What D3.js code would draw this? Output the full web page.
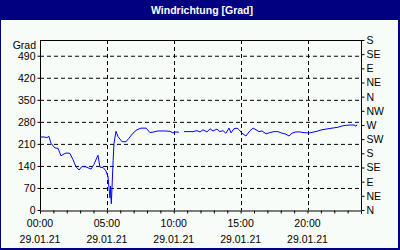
<!DOCTYPE html>
<html><head><meta charset="utf-8">
<script src="https://cdn.jsdelivr.net/npm/d3@7"></script>
<style>
html,body{margin:0;padding:0;background:#fff;}
svg{display:block;}
text{font-family:"Liberation Sans",Arial,sans-serif;}
</style></head>
<body><svg id="c" width="400" height="250"></svg>
<script>
const title = "Windrichtung [Grad]";
const yUnit = "Grad";
const dateLabel = "29.01.21";
const times = ["00:00","00:18","00:31","00:40","00:49","01:07","01:21","01:34","01:43","01:56","02:14","02:28","02:41","02:55","03:08","03:26","03:49","04:02","04:20","04:29","04:43","04:56","05:05","05:10","05:14","05:16","05:20","05:28","05:32","05:41","05:50","06:08","06:26","06:39","06:57","07:15","07:33","07:56","08:13","08:31","08:49","09:21","09:43","09:56","10:10","10:23","10:36","10:46","11:26","11:44","11:58","12:11","12:29","12:43","12:56","13:14","13:27","13:41","13:54","14:08","14:17","14:30","14:44","14:53","15:06","15:24","15:42","15:56","16:09","16:22","16:36","16:54","17:12","17:30","17:47","18:05","18:23","18:37","18:50","19:08","19:26","19:40","19:58","20:11","20:29","20:47","21:05","21:23","21:41","21:59","22:17","22:35","22:53","23:11","23:29","23:38","23:42"];
const values = [232,232,230,234,212,197,196,172,176,181,180,160,138,127,138,137,130,145,174,136,135,124,106,66,38,76,20,156,212,250,233,217,217,228,244,255,260,260,246,248,251,251,250,245,248,247,null,249,249,252,248,255,248,258,251,257,249,252,244,260,245,258,260,255,244,235,252,260,255,249,251,242,246,249,249,244,241,235,244,248,248,246,245,245,248,251,255,257,259,261,263,267,269,270,270,266,271];
const yTicks = [0,70,140,210,280,350,420,490];
const dirLabels = ["N","NE","E","SE","S","SW","W","NW","N","NE","E","SE","S"];
const xMajorHours = [0,5,10,15,20];

const svg = d3.select("#c");
const W = 400, H = 250;
const m = {l:40, r:361, t:40, b:210};
const day = new Date(2021,0,29,0,0);
const parse = t => { const [h,mi] = t.split(":").map(Number); return new Date(2021,0,29,h,mi); };
const data = times.map((t,i)=>({t:parse(t), v:values[i]}));

// background and frame
svg.append("rect").attr("x",0).attr("y",0).attr("width",W).attr("height",H).attr("fill","#000080");
svg.append("rect").attr("x",1).attr("y",20).attr("width",W-3).attr("height",H-22).attr("fill","#f8fcf8");
svg.append("text").attr("x",202).attr("y",14).attr("text-anchor","middle").attr("fill","#fff")
  .attr("font-weight","bold").attr("font-size","10.5px").text(title);

const x = d3.scaleTime().domain([day, d3.timeHour.offset(day,24)]).range([m.l, m.r]);
const y = d3.scaleLinear().domain([0,540]).range([m.b, m.t]);

// grid
const g = svg.append("g");
g.selectAll(".hg").data(yTicks.filter(d=>d>0)).join("line")
  .attr("x1",m.l).attr("x2",m.r).attr("y1",d=>y(d)+0.5).attr("y2",d=>y(d)+0.5)
  .attr("stroke","#000").attr("stroke-dasharray","4,3");
g.selectAll(".vg").data(xMajorHours.filter(d=>d>0)).join("line")
  .attr("x1",d=>Math.round(x(d3.timeHour.offset(day,d)))+0.5).attr("x2",d=>Math.round(x(d3.timeHour.offset(day,d)))+0.5)
  .attr("y1",m.t).attr("y2",m.b)
  .attr("stroke","#000").attr("stroke-dasharray","4,3");

// top border line of plot
svg.append("line").attr("x1",m.l).attr("x2",m.r).attr("y1",m.t+0.5).attr("y2",m.t+0.5).attr("stroke","#000");

// line
const line = d3.line().defined(d=>d.v!==null).x(d=>x(d.t)).y(d=>y(d.v));
svg.append("path").datum(data).attr("d",line).attr("fill","none").attr("stroke","#0000ff").attr("stroke-width",1);

// left axis
const la = svg.append("g").attr("transform",`translate(${m.l+0.5},0)`)
  .call(d3.axisLeft(y).tickValues(yTicks).tickSize(3).tickPadding(2).tickFormat(d3.format("d")));
// right axis
const dirVals = dirLabels.map((d,i)=>i*45);
const ra = svg.append("g").attr("transform",`translate(${m.r+0.5},0)`)
  .call(d3.axisRight(y).tickValues(dirVals).tickSize(3).tickPadding(2).tickFormat((d,i)=>dirLabels[i]));
// bottom axis (hourly ticks)
const hours = d3.range(0,25).map(h=>d3.timeHour.offset(day,h));
const ba = svg.append("g").attr("transform",`translate(0,${m.b+0.5})`)
  .call(d3.axisBottom(x).tickValues(hours).tickSize(3).tickFormat(""));
[la,ra,ba].forEach(a=>{
  a.select(".domain").attr("stroke","#000");
  a.selectAll(".tick line").attr("stroke","#000");
  a.selectAll("text").attr("font-size","10.5px").attr("fill","#000").attr("font-family","Liberation Sans, Arial, sans-serif");
});
la.select(".domain").attr("d",`M-0,${m.b}V${m.t}`);
ra.select(".domain").attr("d",`M0,${m.b}V${m.t}`);

// time labels
const tl = svg.append("g");
xMajorHours.forEach(h=>{
  const d = d3.timeHour.offset(day,h);
  tl.append("text").attr("x",x(d)).attr("y",227).attr("text-anchor","middle").attr("font-size","10.5px").text(d3.timeFormat("%H:%M")(d));
  tl.append("text").attr("x",x(d)).attr("y",243).attr("text-anchor","middle").attr("font-size","10.5px").text(dateLabel);
});
svg.append("text").attr("x",36).attr("y",49).attr("text-anchor","end").attr("font-size","10.5px").text(yUnit);
</script></body></html>
